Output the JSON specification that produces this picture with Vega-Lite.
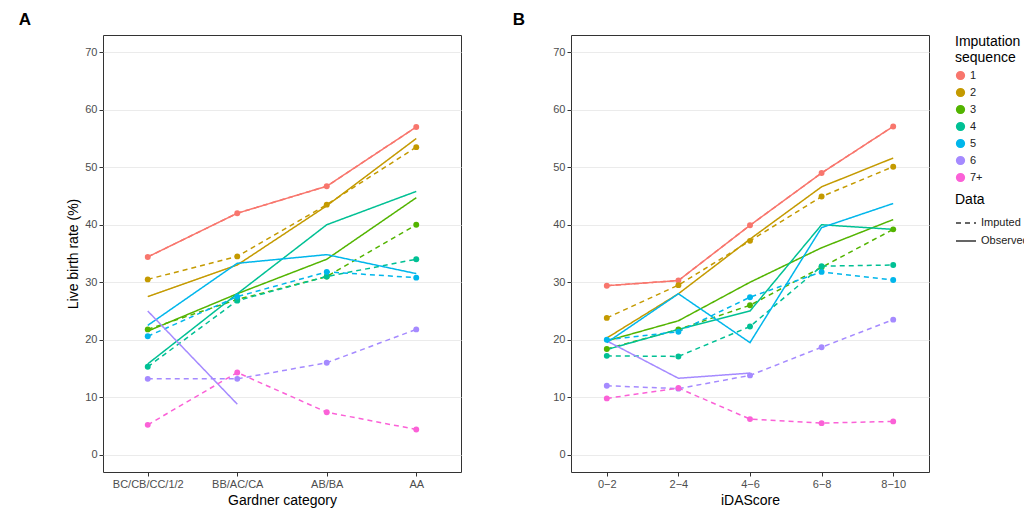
{
"$schema":"https://vega.github.io/schema/vega-lite/v6.json",
"background":"white",
"padding":{"left":18,"top":10,"right":5,"bottom":5},
"config":{"font":"Liberation Sans","view":{"stroke":"#333333","strokeWidth":1},
"axis":{"gridColor":"#ebebeb","domain":false,"tickColor":"#333333","labelColor":"#4d4d4d","labelFontSize":11,"titleFontSize":14,"titleFontWeight":"normal","titleColor":"#000000","labelFont":"Liberation Sans","titleFont":"Liberation Sans"},
"legend":{"titleFontSize":14,"titleFontWeight":"normal","labelFontSize":11,"titleColor":"#000","labelColor":"#222"}},
"datasets":{"d":[
{"p":"A","x":"BC/CB/CC/1/2","s":"1","t":"Imputed","v":34.4},{"p":"A","x":"BB/AC/CA","s":"1","t":"Imputed","v":42},{"p":"A","x":"AB/BA","s":"1","t":"Imputed","v":46.7},{"p":"A","x":"AA","s":"1","t":"Imputed","v":57},
{"p":"A","x":"BC/CB/CC/1/2","s":"1","t":"Observed","v":34.4},{"p":"A","x":"BB/AC/CA","s":"1","t":"Observed","v":42},{"p":"A","x":"AB/BA","s":"1","t":"Observed","v":46.7},{"p":"A","x":"AA","s":"1","t":"Observed","v":57},
{"p":"A","x":"BC/CB/CC/1/2","s":"2","t":"Imputed","v":30.5},{"p":"A","x":"BB/AC/CA","s":"2","t":"Imputed","v":34.5},{"p":"A","x":"AB/BA","s":"2","t":"Imputed","v":43.5},{"p":"A","x":"AA","s":"2","t":"Imputed","v":53.5},
{"p":"A","x":"BC/CB/CC/1/2","s":"2","t":"Observed","v":27.5},{"p":"A","x":"BB/AC/CA","s":"2","t":"Observed","v":33},{"p":"A","x":"AB/BA","s":"2","t":"Observed","v":43.3},{"p":"A","x":"AA","s":"2","t":"Observed","v":55},
{"p":"A","x":"BC/CB/CC/1/2","s":"3","t":"Imputed","v":21.8},{"p":"A","x":"BB/AC/CA","s":"3","t":"Imputed","v":27},{"p":"A","x":"AB/BA","s":"3","t":"Imputed","v":31},{"p":"A","x":"AA","s":"3","t":"Imputed","v":40},
{"p":"A","x":"BC/CB/CC/1/2","s":"3","t":"Observed","v":21.5},{"p":"A","x":"BB/AC/CA","s":"3","t":"Observed","v":28},{"p":"A","x":"AB/BA","s":"3","t":"Observed","v":34},{"p":"A","x":"AA","s":"3","t":"Observed","v":44.7},
{"p":"A","x":"BC/CB/CC/1/2","s":"4","t":"Imputed","v":15.3},{"p":"A","x":"BB/AC/CA","s":"4","t":"Imputed","v":26.8},{"p":"A","x":"AB/BA","s":"4","t":"Imputed","v":31},{"p":"A","x":"AA","s":"4","t":"Imputed","v":34},
{"p":"A","x":"BC/CB/CC/1/2","s":"4","t":"Observed","v":15.8},{"p":"A","x":"BB/AC/CA","s":"4","t":"Observed","v":28},{"p":"A","x":"AB/BA","s":"4","t":"Observed","v":40},{"p":"A","x":"AA","s":"4","t":"Observed","v":45.8},
{"p":"A","x":"BC/CB/CC/1/2","s":"5","t":"Imputed","v":20.6},{"p":"A","x":"BB/AC/CA","s":"5","t":"Imputed","v":27.5},{"p":"A","x":"AB/BA","s":"5","t":"Imputed","v":31.8},{"p":"A","x":"AA","s":"5","t":"Imputed","v":30.8},
{"p":"A","x":"BC/CB/CC/1/2","s":"5","t":"Observed","v":22.5},{"p":"A","x":"BB/AC/CA","s":"5","t":"Observed","v":33.3},{"p":"A","x":"AB/BA","s":"5","t":"Observed","v":34.8},{"p":"A","x":"AA","s":"5","t":"Observed","v":31.5},
{"p":"A","x":"BC/CB/CC/1/2","s":"6","t":"Imputed","v":13.2},{"p":"A","x":"BB/AC/CA","s":"6","t":"Imputed","v":13.2},{"p":"A","x":"AB/BA","s":"6","t":"Imputed","v":16},{"p":"A","x":"AA","s":"6","t":"Imputed","v":21.8},
{"p":"A","x":"BC/CB/CC/1/2","s":"6","t":"Observed","v":25},{"p":"A","x":"BB/AC/CA","s":"6","t":"Observed","v":8.8},
{"p":"A","x":"BC/CB/CC/1/2","s":"7+","t":"Imputed","v":5.2},{"p":"A","x":"BB/AC/CA","s":"7+","t":"Imputed","v":14.3},{"p":"A","x":"AB/BA","s":"7+","t":"Imputed","v":7.4},{"p":"A","x":"AA","s":"7+","t":"Imputed","v":4.4},
{"p":"B","x":"0−2","s":"1","t":"Imputed","v":29.4},{"p":"B","x":"2−4","s":"1","t":"Imputed","v":30.3},{"p":"B","x":"4−6","s":"1","t":"Imputed","v":39.9},{"p":"B","x":"6−8","s":"1","t":"Imputed","v":49},{"p":"B","x":"8−10","s":"1","t":"Imputed","v":57.1},
{"p":"B","x":"0−2","s":"1","t":"Observed","v":29.4},{"p":"B","x":"2−4","s":"1","t":"Observed","v":30.3},{"p":"B","x":"4−6","s":"1","t":"Observed","v":39.9},{"p":"B","x":"6−8","s":"1","t":"Observed","v":49},{"p":"B","x":"8−10","s":"1","t":"Observed","v":57.1},
{"p":"B","x":"0−2","s":"2","t":"Imputed","v":23.8},{"p":"B","x":"2−4","s":"2","t":"Imputed","v":29.5},{"p":"B","x":"4−6","s":"2","t":"Imputed","v":37.2},{"p":"B","x":"6−8","s":"2","t":"Imputed","v":44.9},{"p":"B","x":"8−10","s":"2","t":"Imputed","v":50.1},
{"p":"B","x":"0−2","s":"2","t":"Observed","v":20.3},{"p":"B","x":"2−4","s":"2","t":"Observed","v":28},{"p":"B","x":"4−6","s":"2","t":"Observed","v":37.5},{"p":"B","x":"6−8","s":"2","t":"Observed","v":46.6},{"p":"B","x":"8−10","s":"2","t":"Observed","v":51.6},
{"p":"B","x":"0−2","s":"3","t":"Imputed","v":18.4},{"p":"B","x":"2−4","s":"3","t":"Imputed","v":21.8},{"p":"B","x":"4−6","s":"3","t":"Imputed","v":26},{"p":"B","x":"6−8","s":"3","t":"Imputed","v":32.6},{"p":"B","x":"8−10","s":"3","t":"Imputed","v":39.2},
{"p":"B","x":"0−2","s":"3","t":"Observed","v":19.8},{"p":"B","x":"2−4","s":"3","t":"Observed","v":23.3},{"p":"B","x":"4−6","s":"3","t":"Observed","v":30},{"p":"B","x":"6−8","s":"3","t":"Observed","v":36},{"p":"B","x":"8−10","s":"3","t":"Observed","v":40.9},
{"p":"B","x":"0−2","s":"4","t":"Imputed","v":17.2},{"p":"B","x":"2−4","s":"4","t":"Imputed","v":17.1},{"p":"B","x":"4−6","s":"4","t":"Imputed","v":22.3},{"p":"B","x":"6−8","s":"4","t":"Imputed","v":32.8},{"p":"B","x":"8−10","s":"4","t":"Imputed","v":33},
{"p":"B","x":"0−2","s":"4","t":"Observed","v":18.3},{"p":"B","x":"2−4","s":"4","t":"Observed","v":21.8},{"p":"B","x":"4−6","s":"4","t":"Observed","v":25},{"p":"B","x":"6−8","s":"4","t":"Observed","v":40},{"p":"B","x":"8−10","s":"4","t":"Observed","v":39.2},
{"p":"B","x":"0−2","s":"5","t":"Imputed","v":20},{"p":"B","x":"2−4","s":"5","t":"Imputed","v":21.4},{"p":"B","x":"4−6","s":"5","t":"Imputed","v":27.4},{"p":"B","x":"6−8","s":"5","t":"Imputed","v":31.8},{"p":"B","x":"8−10","s":"5","t":"Imputed","v":30.4},
{"p":"B","x":"0−2","s":"5","t":"Observed","v":19.5},{"p":"B","x":"2−4","s":"5","t":"Observed","v":28},{"p":"B","x":"4−6","s":"5","t":"Observed","v":19.5},{"p":"B","x":"6−8","s":"5","t":"Observed","v":39.5},{"p":"B","x":"8−10","s":"5","t":"Observed","v":43.7},
{"p":"B","x":"0−2","s":"6","t":"Imputed","v":12},{"p":"B","x":"2−4","s":"6","t":"Imputed","v":11.5},{"p":"B","x":"4−6","s":"6","t":"Imputed","v":13.8},{"p":"B","x":"6−8","s":"6","t":"Imputed","v":18.7},{"p":"B","x":"8−10","s":"6","t":"Imputed","v":23.5},
{"p":"B","x":"0−2","s":"6","t":"Observed","v":19.8},{"p":"B","x":"2−4","s":"6","t":"Observed","v":13.3},{"p":"B","x":"4−6","s":"6","t":"Observed","v":14.2},
{"p":"B","x":"0−2","s":"7+","t":"Imputed","v":9.8},{"p":"B","x":"2−4","s":"7+","t":"Imputed","v":11.6},{"p":"B","x":"4−6","s":"7+","t":"Imputed","v":6.2},{"p":"B","x":"6−8","s":"7+","t":"Imputed","v":5.5},{"p":"B","x":"8−10","s":"7+","t":"Imputed","v":5.8}
]},
"data":{"name":"d"},
"resolve":{"scale":{"color":"shared","strokeDash":"shared"}},
"spacing":50,
"hconcat":[
{"title":{"text":"A","anchor":"start","fontSize":17,"fontWeight":"bold","dx":-48,"offset":6},
"width":358,"height":437,
"transform":[{"filter":"datum.p==='A'"}],
"layer":[
{"mark":{"type":"line","strokeWidth":1.5},
"encoding":{"x":{"field":"x","type":"nominal","sort":["BC/CB/CC/1/2","BB/AC/CA","AB/BA","AA"],"title":"Gardner category","scale":{"paddingOuter":0.3},"axis":{"labelAngle":0,"grid":false,"tickSize":4}},
"y":{"field":"v","type":"quantitative","scale":{"domain":[-3,73],"nice":false},"axis":{"values":[0,10,20,30,40,50,60,70],"title":"Live birth rate (%)","tickSize":4}},
"color":{"field":"s","type":"nominal","scale":{"domain":["1","2","3","4","5","6","7+"],"range":["#F8766D","#C49A00","#53B400","#00C094","#00B6EB","#A58AFF","#FB61D7"]},"legend":{"title":["Imputation","sequence"],"orient":"right","symbolType":"circle","symbolSize":60,"offset":25}},
"strokeDash":{"field":"t","type":"nominal","scale":{"domain":["Imputed","Observed"],"range":[[5,4],[1,0]]},"legend":{"title":"Data","symbolType":"stroke","symbolStrokeColor":"#333","symbolSize":400}},
"detail":{"field":"t"}}},
{"mark":{"type":"point","filled":true,"size":35,"opacity":1},"transform":[{"filter":"datum.t==='Imputed'"}],
"encoding":{"x":{"field":"x","type":"nominal","sort":["BC/CB/CC/1/2","BB/AC/CA","AB/BA","AA"]},"y":{"field":"v","type":"quantitative"},"color":{"field":"s","type":"nominal"}}}
]},
{"title":{"text":"B","anchor":"start","fontSize":17,"fontWeight":"bold","dx":-40,"offset":6},
"width":358,"height":437,
"transform":[{"filter":"datum.p==='B'"}],
"layer":[
{"mark":{"type":"line","strokeWidth":1.5},
"encoding":{"x":{"field":"x","type":"nominal","sort":["0−2","2−4","4−6","6−8","8−10"],"title":"iDAScore","scale":{"paddingOuter":0.3},"axis":{"labelAngle":0,"grid":false,"tickSize":4}},
"y":{"field":"v","type":"quantitative","scale":{"domain":[-3,73],"nice":false},"axis":{"values":[0,10,20,30,40,50,60,70],"title":null,"tickSize":4}},
"color":{"field":"s","type":"nominal"},
"strokeDash":{"field":"t","type":"nominal"},
"detail":{"field":"t"}}},
{"mark":{"type":"point","filled":true,"size":35,"opacity":1},"transform":[{"filter":"datum.t==='Imputed'"}],
"encoding":{"x":{"field":"x","type":"nominal","sort":["0−2","2−4","4−6","6−8","8−10"]},"y":{"field":"v","type":"quantitative"},"color":{"field":"s","type":"nominal"}}}
]}
]}
